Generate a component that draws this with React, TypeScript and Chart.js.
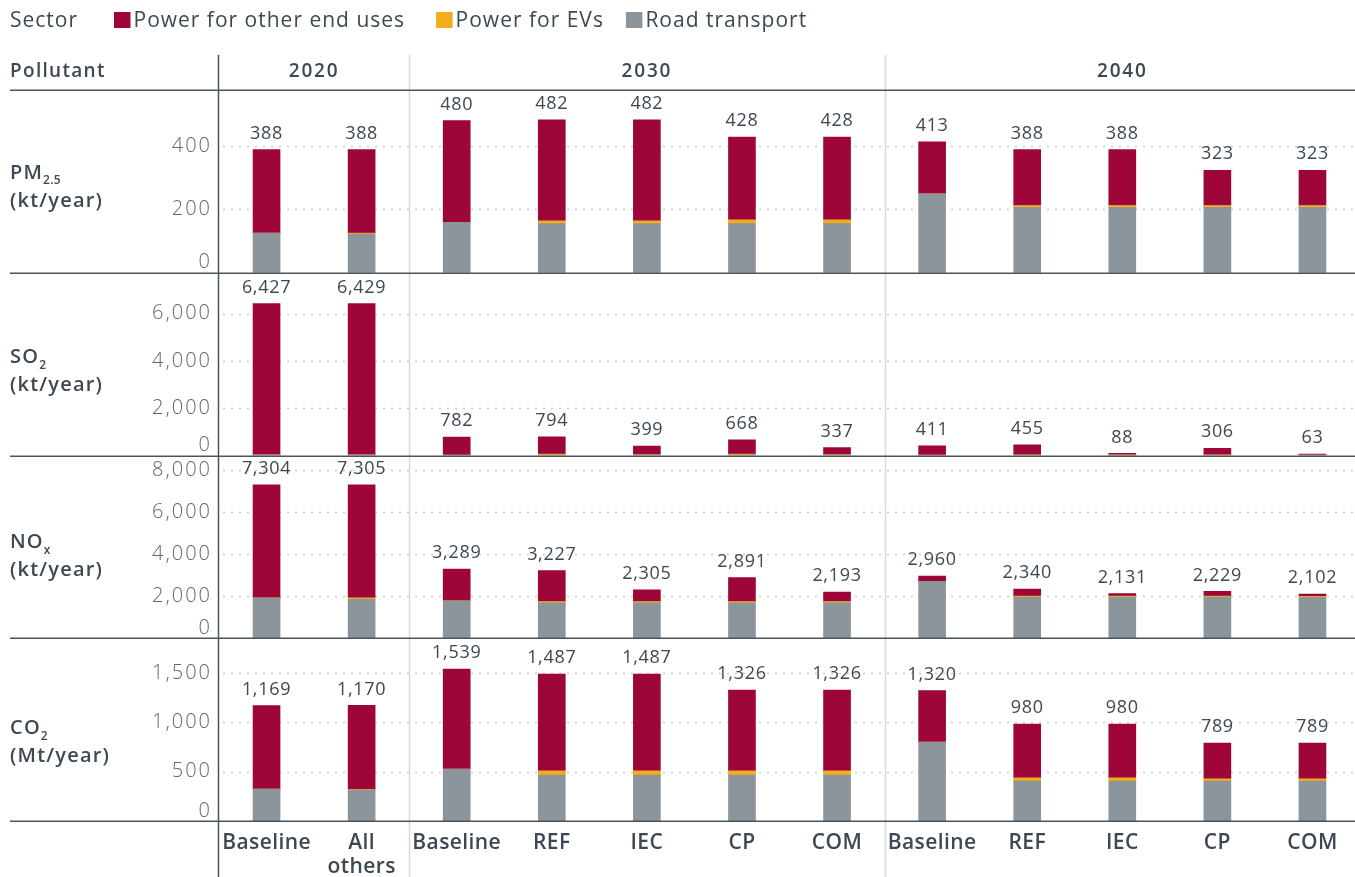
import React, { useEffect, useRef } from "react";
import { Chart, registerables } from "chart.js";

Chart.register(...registerables);

const FONT = "'Open Sans', 'DejaVu Sans', sans-serif";
const TEXT = "#3d4852";
const TICK = "#5d6770";
const DARK_LINE = "#4a545d";
const LIGHT_LINE = "#d7dadd";
const GRID = "#c9cccf";

// ---- data ----
const categories: (string | string[])[] = [
  "Baseline", ["All", "others"],
  "Baseline", "REF", "IEC", "CP", "COM",
  "Baseline", "REF", "IEC", "CP", "COM",
];
const yearLabels = ["2020", "2030", "2040"];
const yearFirstIndex = [0, 2, 7];
const yearLastIndex = [1, 6, 11];

const seriesLabels = ["Power for other end uses", "Power for EVs", "Road transport"];
const colorOther = "#9e0639";
const colorEv = "#f1ad1d";
const colorRoad = "#8d959c";

// PM2.5 (kt/year)
const pmRoad = [125, 122, 159, 155, 155, 155, 155, 249, 206, 206, 206, 206];
const pmEv = [0, 3, 0, 9, 9, 12, 12, 0, 6, 6, 6, 6];
const pmOther = [263, 263, 321, 318, 318, 261, 261, 164, 176, 176, 111, 111];
const pmTicks = [0, 200, 400];
const pmMax = 576;

// SO2 (kt/year)
const so2Road = [25, 25, 20, 20, 20, 20, 20, 15, 15, 15, 15, 15];
const so2Ev = [0, 2, 0, 40, 20, 40, 20, 0, 15, 10, 15, 8];
const so2Other = [6402, 6402, 762, 734, 359, 608, 297, 396, 425, 63, 276, 40];
const so2Ticks = [0, 2000, 4000, 6000];
const so2Max = 7730;

// NOx (kt/year)
const noxRoad = [1920, 1850, 1785, 1690, 1690, 1690, 1690, 2710, 1960, 1960, 1960, 1950];
const noxEv = [0, 80, 0, 60, 60, 60, 60, 0, 50, 50, 50, 50];
const noxOther = [5384, 5375, 1504, 1477, 555, 1141, 443, 250, 330, 121, 219, 102];
const noxTicks = [0, 2000, 4000, 6000, 8000];
const noxMax = 8700;

// CO2 (Mt/year)
const co2Road = [323, 316, 526, 465, 465, 465, 465, 800, 405, 405, 405, 405];
const co2Ev = [0, 4, 0, 44, 44, 44, 44, 0, 33, 33, 23, 23];
const co2Other = [846, 850, 1013, 978, 978, 817, 817, 520, 542, 542, 361, 361];
const co2Ticks = [0, 500, 1000, 1500];
const co2Max = 1850;

// top-to-bottom order of the panels
const panels = [
  { id: "yPM", main: "PM", sub: "2.5", unit: "(kt/year)", road: pmRoad, ev: pmEv, other: pmOther, ticks: pmTicks, max: pmMax, labelOffset: 83 },
  { id: "ySO2", main: "SO", sub: "2", unit: "(kt/year)", road: so2Road, ev: so2Ev, other: so2Other, ticks: so2Ticks, max: so2Max, labelOffset: 85 },
  { id: "yNOX", main: "NO", sub: "x", unit: "(kt/year)", road: noxRoad, ev: noxEv, other: noxOther, ticks: noxTicks, max: noxMax, labelOffset: 87 },
  { id: "yCO2", main: "CO", sub: "2", unit: "(Mt/year)", road: co2Road, ev: co2Ev, other: co2Other, ticks: co2Ticks, max: co2Max, labelOffset: 90 },
];

const legendGaps = [31, 22, 0];

const fmt = (v: number) => v.toLocaleString("en-US");

function setFont(ctx: any, weight: number, size: number, spacing: number) {
  ctx.font = `${weight} ${size}px ${FONT}`;
  ctx.letterSpacing = `${spacing}px`;
}

const overlayPlugin = {
  id: "overlay",
  beforeDraw(chart: any) {
    chart.ctx.letterSpacing = "0.4px";
  },
  beforeDatasetsDraw(chart: any) {
    const ctx = chart.ctx;
    const area = chart.chartArea;
    ctx.save();
    ctx.strokeStyle = GRID;
    ctx.lineWidth = 1.5;
    ctx.setLineDash([2, 6]);
    panels.forEach((p) => {
      const s = chart.scales[p.id];
      p.ticks.forEach((t) => {
        if (t === 0) return;
        const y = Math.round(s.getPixelForValue(t)) + 0.5;
        ctx.beginPath();
        ctx.moveTo(area.left + 4, y);
        ctx.lineTo(chart.width, y);
        ctx.stroke();
      });
    });
    ctx.restore();
  },
  afterDraw(chart: any) {
    const ctx = chart.ctx;
    const area = chart.chartArea;
    const xs = chart.scales.x;
    const step = xs.getPixelForValue(1) - xs.getPixelForValue(0);
    ctx.save();

    // year dividers (light)
    ctx.strokeStyle = LIGHT_LINE;
    ctx.lineWidth = 1.5;
    [yearFirstIndex[1], yearFirstIndex[2]].forEach((i) => {
      const x = Math.round(xs.getPixelForValue(i) - step / 2) + 0.5;
      ctx.beginPath();
      ctx.moveTo(x, 55);
      ctx.lineTo(x, chart.height);
      ctx.stroke();
    });

    // horizontal dark lines: header + panel bottoms
    ctx.strokeStyle = DARK_LINE;
    ctx.lineWidth = 1.5;
    const hLines = [area.top, ...panels.map((p) => chart.scales[p.id].bottom)];
    hLines.forEach((yy) => {
      const y = Math.round(yy) + 0.25;
      ctx.beginPath();
      ctx.moveTo(10, y);
      ctx.lineTo(chart.width, y);
      ctx.stroke();
    });
    // vertical dark line
    ctx.beginPath();
    ctx.moveTo(area.left - 0.5, 55);
    ctx.lineTo(area.left - 0.5, chart.height);
    ctx.stroke();

    // legend
    ctx.textBaseline = "middle";
    ctx.textAlign = "left";
    ctx.fillStyle = TEXT;
    setFont(ctx, 500, 21, 1);
    ctx.fillText("Sector", 10, 21);
    let lx = 114;
    const legendColors = [colorOther, colorEv, colorRoad];
    seriesLabels.forEach((lab, i) => {
      ctx.fillStyle = legendColors[i];
      ctx.fillRect(lx, 12, 16.5, 16);
      ctx.fillStyle = TEXT;
      ctx.fillText(lab, lx + 19.5, 21);
      lx += 19.5 + ctx.measureText(lab).width + legendGaps[i];
    });

    // header
    setFont(ctx, 600, 19, 1.3);
    ctx.fillStyle = TEXT;
    ctx.textAlign = "left";
    ctx.fillText("Pollutant", 10, 72);
    ctx.textAlign = "center";
    setFont(ctx, 600, 19, 1.8);
    yearLabels.forEach((yl, i) => {
      const x0 = xs.getPixelForValue(yearFirstIndex[i]) - step / 2;
      const x1 = xs.getPixelForValue(yearLastIndex[i]) + step / 2;
      ctx.fillText(yl, (x0 + x1) / 2, 72);
    });

    panels.forEach((p) => {
      const s = chart.scales[p.id];
      // row labels
      ctx.textAlign = "left";
      setFont(ctx, 600, 20, 1.2);
      ctx.fillStyle = TEXT;
      const y1 = s.top + p.labelOffset;
      ctx.fillText(p.main, 10, y1);
      const w = ctx.measureText(p.main).width;
      setFont(ctx, 600, 12, 0.3);
      ctx.fillText(p.sub, 10 + w, y1 + 8);
      setFont(ctx, 600, 20, 1.2);
      ctx.fillText(p.unit, 10, y1 + 28);

      // tick labels
      ctx.textAlign = "right";
      setFont(ctx, 300, 20, 2);
      ctx.fillStyle = TICK;
      p.ticks.forEach((t) => {
        let y = s.getPixelForValue(t);
        if (t === 0) y -= 10;
        ctx.fillText(fmt(t), 212, y);
      });

      // value labels
      ctx.textAlign = "center";
      setFont(ctx, 500, 18, 0.7);
      ctx.fillStyle = TEXT;
      p.road.forEach((_, i) => {
        const total = p.road[i] + p.ev[i] + p.other[i];
        const x = xs.getPixelForValue(i);
        const y = s.getPixelForValue(total) - 16;
        ctx.fillText(fmt(total), x, y);
      });
    });
    ctx.restore();
  },
};

export default function App() {
  const ref = useRef<HTMLCanvasElement | null>(null);
  useEffect(() => {
    if (!ref.current) return;
    const datasets: any[] = [];
    panels.forEach((p) => {
      const common = { yAxisID: p.id, xAxisID: "x", stack: p.id, grouped: false, barThickness: 27, borderWidth: 0 };
      datasets.push({ label: seriesLabels[2], data: p.road, backgroundColor: colorRoad, ...common });
      datasets.push({ label: seriesLabels[1], data: p.ev, backgroundColor: colorEv, ...common });
      datasets.push({ label: seriesLabels[0], data: p.other, backgroundColor: colorOther, ...common });
    });
    const yScale = (p: any) => ({
      type: "linear",
      position: "left",
      stack: "rows",
      stackWeight: 1,
      stacked: true,
      min: 0,
      max: p.max,
      grid: { display: false },
      border: { display: false },
      ticks: { display: false },
      afterFit: (s: any) => {
        s.width = 219;
      },
    });
    const scales: any = {
      x: {
        type: "category",
        stacked: true,
        grid: { display: false },
        border: { display: false },
        ticks: {
          color: TEXT,
          font: { family: FONT, size: 21, weight: "600", lineHeight: 1.15 },
          padding: 2,
          autoSkip: false,
          maxRotation: 0,
        },
        afterFit: (s: any) => {
          s.height = 56;
        },
      },
    };
    // stacked scales are laid out bottom-up, so add them in reverse
    [...panels].reverse().forEach((p) => {
      scales[p.id] = yScale(p);
    });
    const chart = new Chart(ref.current, {
      type: "bar",
      data: { labels: categories as any, datasets },
      options: {
        responsive: false,
        animation: false,
        layout: { padding: { top: 90, left: 0, right: 0, bottom: 0 } },
        plugins: { legend: { display: false }, tooltip: { enabled: false } },
        scales,
      } as any,
      plugins: [overlayPlugin],
    });
    return () => chart.destroy();
  }, []);
  return (
    <div style={{ position: "fixed", left: 0, top: 0, width: 1360, height: 877, background: "#fff" }}>
      <canvas ref={ref} width={1360} height={877} style={{ width: 1360, height: 877, display: "block" }} />
    </div>
  );
}
